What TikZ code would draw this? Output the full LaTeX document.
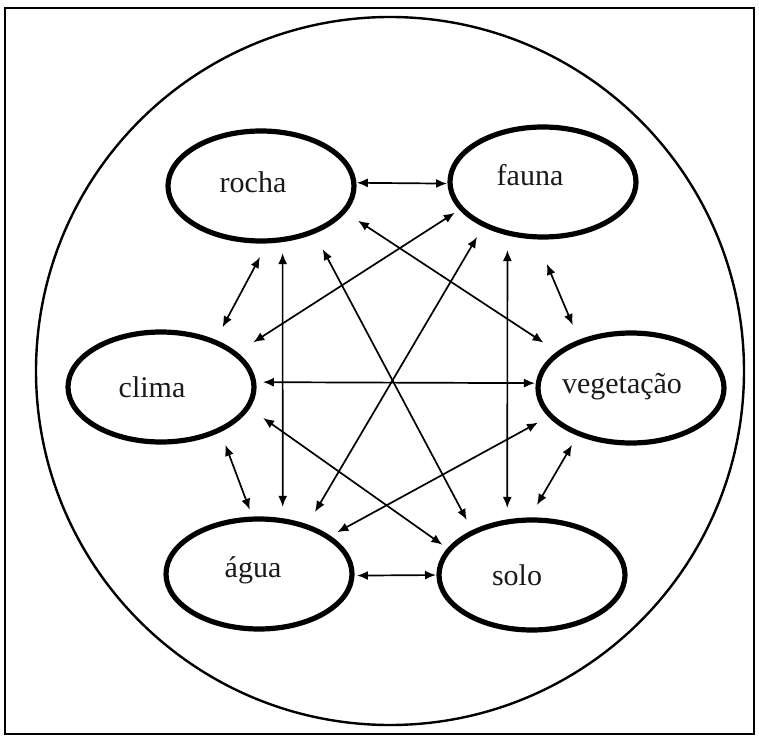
\documentclass[tikz,border=0pt]{standalone}
\usepackage{fontspec}
\setmainfont{Liberation Serif}
\usetikzlibrary{shapes.geometric,arrows.meta}
\begin{document}
\begin{tikzpicture}[x=0.5pt,y=-0.5pt,
  ell/.style={draw, ellipse, line width=2.6pt, minimum width=93pt, minimum height=55pt, inner sep=0pt, outer sep=0pt},
  txt/.style={font=\fontsize{15}{18}\selectfont, inner sep=0pt, text=black!90},
  arr/.style={line width=0.85pt, {Latex[length=5.5pt,width=4.5pt]}-{Latex[length=5.5pt,width=4.5pt]}},
  frame/.style={line width=1.2pt},
]
\useasboundingbox (0,0) rectangle (759,737);
\draw[frame] (5,8) rectangle (754,734);
\draw[frame] (390,371) circle[radius=177pt];

\node[ell, label={[txt,xshift=-4pt,yshift=2pt]center:rocha}] (rocha) at (261,186) {};
\node[ell, label={[txt,xshift=-6.5pt,yshift=3.5pt]center:fauna}] (fauna) at (543,182) {};
\node[ell, label={[txt,xshift=-4.5pt]center:clima}] (clima) at (161,387) {};
\node[ell, label={[txt,xshift=-4.5pt,yshift=0.5pt]center:vegetação}] (veg) at (631,388) {};
\node[ell, label={[txt,xshift=-3pt,yshift=2pt]center:água}] (agua) at (259,574) {};
\node[ell, label={[txt,xshift=-7.5pt]center:solo}] (solo) at (532,575) {};

\draw[arr, shorten <=1.5pt, shorten >=1.5pt] (rocha.2) -- (fauna.181);
\draw[arr, shorten <=9.2pt, shorten >=8.4pt] (rocha.-82) -- (clima.40);
\draw[arr, shorten <=6.8pt, shorten >=7pt] (rocha.-68) -- (agua.66);
\draw[arr, shorten <=8.6pt, shorten >=9.4pt] (rocha.-17) -- (veg.154);
\draw[arr, shorten <=10pt, shorten >=7pt] (rocha.-41) -- (solo.144);
\draw[arr, shorten <=4pt, shorten >=10.7pt] (fauna.198) -- (clima.24);
\draw[arr, shorten <=14.7pt, shorten >=9.2pt] (fauna.262) -- (veg.138);
\draw[arr, shorten <=7.1pt, shorten >=8.5pt] (fauna.216) -- (agua.45);
\draw[arr, shorten <=8.6pt, shorten >=7pt] (fauna.235) -- (solo.115);
\draw[arr, shorten <=4.6pt, shorten >=1.7pt] (clima.3) -- (veg.177);
\draw[arr, shorten <=8.1pt, shorten >=5pt] (clima.-36) -- (agua.96);
\draw[arr, shorten <=9.5pt, shorten >=4.3pt] (clima.-13) -- (solo.163);
\draw[arr, shorten <=7.2pt, shorten >=5.2pt] (veg.199) -- (agua.28);
\draw[arr, shorten <=6.6pt, shorten >=8.7pt] (veg.221) -- (solo.94);
\draw[arr, shorten <=2.5pt, shorten >=1.5pt] (agua.-1) -- (solo.180);
\end{tikzpicture}
\end{document}
